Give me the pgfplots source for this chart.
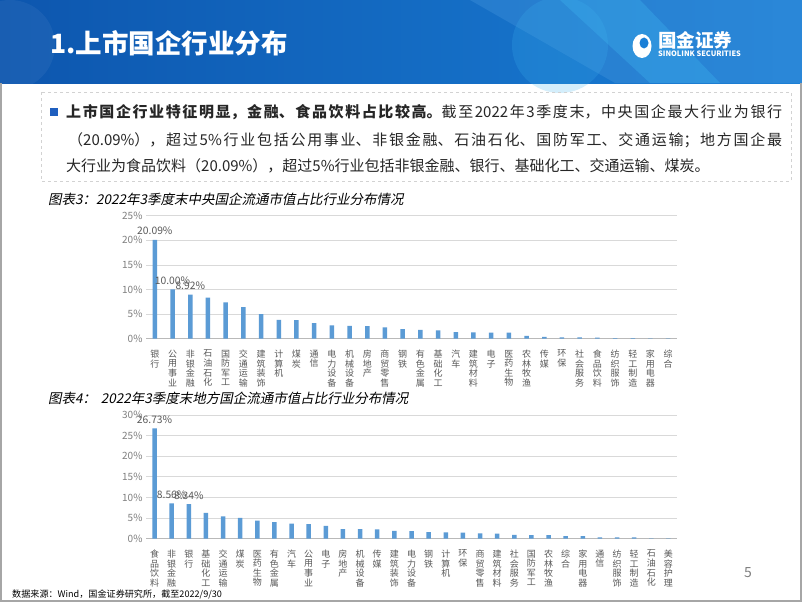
\documentclass[border=0pt]{standalone}
\usepackage{fontspec}
\setmainfont{Noto Sans CJK SC}
\newfontfamily\cjkit[FakeSlant=0.2]{Noto Sans CJK SC}
\usepackage{pgfplots}
\pgfplotsset{compat=1.18}
\definecolor{barblue}{HTML}{5B9BD5}
\definecolor{lblgray}{HTML}{595959}
\definecolor{tickgray}{HTML}{7F7F7F}
\definecolor{gridgray}{HTML}{D9D9D9}
\definecolor{bannerL}{HTML}{0D56AE}
\definecolor{bannerR}{HTML}{1A7FD6}
\definecolor{bannerC}{HTML}{3DB3EE}
\definecolor{sqblue}{HTML}{1F5FBF}
\newcommand{\justline}[2]{\parbox[b]{#1}{\XeTeXlinebreaklocale "zh"\XeTeXlinebreakskip=0pt plus 3pt\tolerance=10000\parfillskip=0pt\noindent #2}}
\pgfplotsset{
  mybars/.style={
    scale only axis, ybar, bar width=4.5pt,
    axis lines*=left,
    y axis line style={draw=none},
    x axis line style={color=gray!55, line width=0.6pt},
    tick style={draw=none},
    ymajorgrids, grid style={color=gridgray, line width=0.6pt},
    ymin=0,
    xtick=data,
    /pgf/number format/assume math mode=true,
    yticklabel={\pgfmathprintnumber{\tick}\%},
    yticklabel style={font=\fontsize{10}{10}\selectfont, text=tickgray},
    xticklabel style={font=\fontsize{9}{9.6}\selectfont, text=lblgray, align=center, anchor=north, inner sep=2pt, yshift=-5pt},
    nodes near coords style={font=\fontsize{10.3}{10.3}\selectfont, text=lblgray, anchor=south, yshift=1.5pt},
  }
}
\begin{document}
\begin{tikzpicture}[x=1pt,y=1pt]
\useasboundingbox (0,0) rectangle (802,-602);
\fill[white] (0,0) rectangle (802,-602);
% banner
\shade[left color=bannerL, right color=bannerR] (0,0) rectangle (802,-83);
\fill[bannerR!80!white, opacity=0.35] (470,0) -- (802,0) -- (802,-83) -- (615,-83) -- cycle;
\fill[bannerC, opacity=0.35] (560,0) -- (640,0) -- (720,-83) -- (650,-83) -- cycle;
\fill[bannerC, opacity=0.22] (560,-45) circle (48);
\fill[white, opacity=0.05] (10,-45) circle (45);
\node[anchor=west, text=white, inner sep=0pt] at (50,-43) {\fontsize{26.5}{26.5}\selectfont\bfseries 1.上市国企行业分布};
% logo
\fill[white] (642,-46) ellipse (9.5 and 12);
\fill[bannerR] (644,-43) ellipse (4.5 and 5.5);
\node[anchor=west, text=white, inner sep=0pt] at (658,-40) {\fontsize{18.5}{18.5}\selectfont\bfseries 国金证券};
\node[anchor=west, text=white, inner sep=0pt] at (658,-54) {\fontsize{7.4}{8}\selectfont\bfseries SINOLINK SECURITIES};
% frame
\draw[gray!70, line width=1.2pt] (1,-83) -- (1,-601) -- (801,-601) -- (801,-83);
% text box
\draw[gray!35, dashed, line width=0.8pt] (41,-92) rectangle (791,-181);
\fill[sqblue] (50,-108) rectangle (58,-116);
\node[anchor=base west, inner sep=0pt, text=black!85] at (66,-117) {\fontsize{15}{15}\selectfont\justline{716pt}{\textbf{上市国企行业特征明显，金融、食品饮料占比较高。}截至2022年3季度末，中央国企最大行业为银行}};
\node[anchor=base west, inner sep=0pt, text=black!85] at (68,-145) {\fontsize{15}{15}\selectfont\justline{714pt}{（20.09\%），超过5\%行业包括公用事业、非银金融、石油石化、国防军工、交通运输；地方国企最}};
\node[anchor=base west, inner sep=0pt, text=black!85] at (66,-171) {\fontsize{15}{15}\selectfont 大行业为食品饮料（20.09\%），超过5\%行业包括非银金融、银行、基础化工、交通运输、煤炭。};
% chart titles
\node[anchor=west, inner sep=0pt] at (48,-199) {\fontsize{13.5}{13.5}\selectfont\cjkit 图表3：2022年3季度末中央国企流通市值占比行业分布情况};
\node[anchor=west, inner sep=0pt] at (48,-398) {\fontsize{13.5}{13.5}\selectfont\cjkit 图表4：\hspace{0.35em}2022年3季度末地方国企流通市值占比行业分布情况};
% chart 1
\begin{axis}[mybars, at={(146pt,-338.5pt)}, anchor=south west,
  width=531pt, height=122.8pt,
  xmin=-0.5, xmax=29.5, ymax=25, ytick={0,5,...,25},
  xticklabels={{银\\行},{公\\用\\事\\业},{非\\银\\金\\融},{石\\油\\石\\化},{国\\防\\军\\工},{交\\通\\运\\输},{建\\筑\\装\\饰},{计\\算\\机},{煤\\炭},{通\\信},{电\\力\\设\\备},{机\\械\\设\\备},{房\\地\\产},{商\\贸\\零\\售},{钢\\铁},{有\\色\\金\\属},{基\\础\\化\\工},{汽\\车},{建\\筑\\材\\料},{电\\子},{医\\药\\生\\物},{农\\林\\牧\\渔},{传\\媒},{环\\保},{社\\会\\服\\务},{食\\品\\饮\\料},{纺\\织\\服\\饰},{轻\\工\\制\\造},{家\\用\\电\\器},{综\\合}},
]
\addplot[bar shift=0pt, fill=barblue, draw=none] coordinates {
(0,20.09) (1,10.00) (2,8.92) (3,8.30) (4,7.35) (5,6.38) (6,4.95) (7,3.77) (8,3.72) (9,3.15)
(10,2.67) (11,2.55) (12,2.53) (13,2.27) (14,1.93) (15,1.78) (16,1.65) (17,1.30) (18,1.25) (19,1.18)
(20,1.20) (21,0.55) (22,0.35) (23,0.22) (24,0.22) (25,0.20) (26,0.08) (27,0.08) (28,0.01) (29,0.01)};
\addplot[bar shift=0pt, draw=none, fill=none, point meta=explicit symbolic, nodes near coords={\pgfplotspointmeta}] coordinates {
(0,20.09)[20.09\%] (1,10.00)[10.00\%] (2,8.92)[8.92\%]};
\end{axis}
% chart 2
\begin{axis}[mybars, at={(146pt,-538.5pt)}, anchor=south west,
  width=531pt, height=123.5pt,
  xmin=-0.5, xmax=30.5, ymax=30, ytick={0,5,...,30},
  xticklabels={{食\\品\\饮\\料},{非\\银\\金\\融},{银\\行},{基\\础\\化\\工},{交\\通\\运\\输},{煤\\炭},{医\\药\\生\\物},{有\\色\\金\\属},{汽\\车},{公\\用\\事\\业},{电\\子},{房\\地\\产},{机\\械\\设\\备},{传\\媒},{建\\筑\\装\\饰},{电\\力\\设\\备},{钢\\铁},{计\\算\\机},{环\\保},{商\\贸\\零\\售},{建\\筑\\材\\料},{社\\会\\服\\务},{国\\防\\军\\工},{农\\林\\牧\\渔},{综\\合},{家\\用\\电\\器},{通\\信},{纺\\织\\服\\饰},{轻\\工\\制\\造},{石\\油\\石\\化},{美\\容\\护\\理}},
]
\addplot[bar shift=0pt, fill=barblue, draw=none] coordinates {
(0,26.73) (1,8.56) (2,8.34) (3,6.25) (4,5.35) (5,5.03) (6,4.37) (7,3.97) (8,3.64) (9,3.48)
(10,3.08) (11,2.27) (12,2.27) (13,2.19) (14,1.87) (15,1.78) (16,1.54) (17,1.46) (18,1.42) (19,1.22)
(20,1.20) (21,0.90) (22,0.80) (23,0.80) (24,0.55) (25,0.55) (26,0.30) (27,0.28) (28,0.28) (29,0.05) (30,0.03)};
\addplot[bar shift=0pt, draw=none, fill=none, point meta=explicit symbolic, nodes near coords={\pgfplotspointmeta}] coordinates {
(0,26.73)[26.73\%] (1,8.56)[8.56\%] (2,8.34)[8.34\%]};
\end{axis}
% source & page
\node[anchor=west, inner sep=0pt] at (12,-594) {\fontsize{9.1}{10}\selectfont 数据来源：Wind，国金证券研究所，截至2022/9/30};
\node[text=gray, inner sep=0pt] at (748,-573) {\fontsize{14}{14}\selectfont 5};
\end{tikzpicture}
\end{document}
